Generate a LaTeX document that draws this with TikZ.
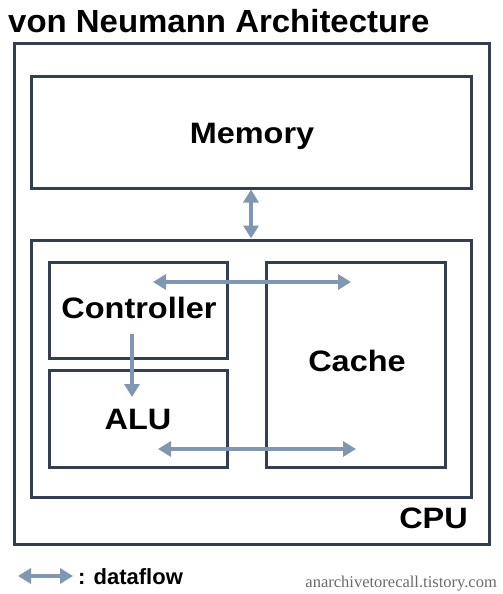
\documentclass[tikz,border=0pt]{standalone}
\usepackage{fontspec}
\setmainfont{Liberation Sans}
\newfontfamily\lblfont[FakeStretch=1.1]{Liberation Sans}
\newfontfamily\titlefont[FakeStretch=1.03]{Liberation Sans}
\newfontfamily\wmfont{Liberation Serif}
\usetikzlibrary{arrows.meta}
\definecolor{boxline}{HTML}{343E4E}
\definecolor{flow}{HTML}{8097B1}
\definecolor{wmgray}{HTML}{6A6A6A}
\tikzset{
  box/.style={draw=boxline, line width=3pt, rectangle, inner sep=0pt},
  lbl/.style={font=\lblfont\fontsize{29.5}{29.5}\selectfont\bfseries},
  flowarrow/.style={draw=flow, line width=4.5pt,
    {Triangle[width=15pt,length=13pt]}-{Triangle[width=15pt,length=13pt]}},
  flowone/.style={draw=flow, line width=4.5pt, -{Triangle[width=15pt,length=13pt]}}
}
\begin{document}
\begin{tikzpicture}[x=1pt,y=-1pt]
\useasboundingbox (0,0) rectangle (503,594);
% title
\node[anchor=base west, inner sep=0pt, font=\titlefont\fontsize{32}{32}\selectfont\bfseries] (title) at (8,33) {von Neumann Architecture};
% boxes
\node[box, minimum width=474.5pt, minimum height=500pt] (outer) at (251.75,294) {};
\node[box, minimum width=440pt, minimum height=112pt] (mem) at (251,132) {};
\node[lbl, anchor=base, inner sep=0pt] (memtext) at (252,143) {Memory};
\node[box, minimum width=440pt, minimum height=257pt] (cpu) at (251,368.5) {};
\node[box, minimum width=178pt, minimum height=96pt] (ctrl) at (138,310) {};
\node[lbl, anchor=base, inner sep=0pt] (ctrltext) at (139,318) {Controller};
\node[box, minimum width=178pt, minimum height=97pt] (alu) at (138,418.5) {};
\node[lbl, anchor=base, inner sep=0pt] (alutext) at (138,429) {ALU};
\node[box, minimum width=179pt, minimum height=205pt] (cache) at (355.5,364.5) {};
\node[lbl, anchor=base, inner sep=0pt] (cachetext) at (357,371) {Cache};
\node[lbl, anchor=base east, inner sep=0pt] (cpulbl) at (468,528) {CPU};
% arrows
\coordinate (c1) at (153,282);
\coordinate (c2) at (351,282);
\coordinate (a1) at (158,449);
\coordinate (a2) at (356,449);
\coordinate (v1) at (132,334);
\coordinate (v2) at (132,397);
\draw[flowarrow] (mem.south) -- (cpu.north);
\draw[flowarrow] (c1) -- (c2);
\draw[flowarrow] (a1) -- (a2);
\draw[flowone] (v1) -- (v2);
% legend
\coordinate (l1) at (18,576);
\coordinate (l2) at (73,576);
\draw[flowarrow] (l1) -- (l2);
\node[anchor=base west, inner sep=0pt, font=\fontsize{22}{22}\selectfont\bfseries] (legend) at (78,584) {: dataflow};
\node[anchor=base east, inner sep=0pt, text=wmgray, font=\wmfont\fontsize{16.5}{16.5}\selectfont] (wm) at (497,587) {anarchivetorecall.tistory.com};
\end{tikzpicture}
\end{document}
